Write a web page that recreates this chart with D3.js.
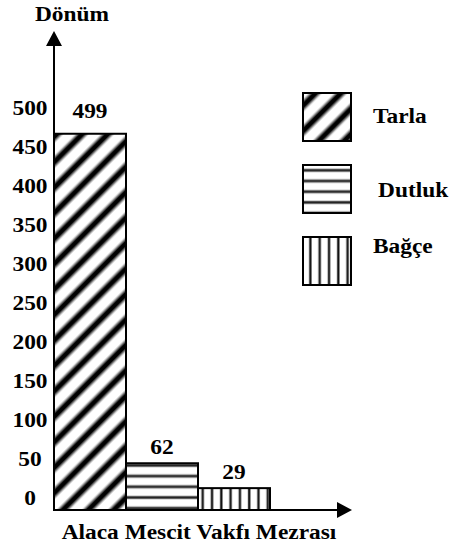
<!DOCTYPE html>
<meta charset="utf-8">
<script src="https://d3js.org/d3.v7.min.js"></script>
<style>
  body { margin: 0; background: #fff; }
  text { font-family: "Liberation Serif", "Times New Roman", serif; font-weight: bold; fill: #000; }
</style>
<body>
<div id="chart"></div>
<script>

// data
var categories = ["Tarla", "Dutluk", "Bağçe"];
var values = [499, 62, 29];
var tickValues = [0, 50, 100, 150, 200, 250, 300, 350, 400, 450, 500];
var yTitle = "Dönüm";
var xTitle = "Alaca Mescit Vakfı Mezrası";

// fill pattern for each category
var fills = ["url(#diag)", "url(#horiz)", "url(#vert)"];

var width = 453, height = 546;
var baseY = 510, axisX = 54;
var fontSize = "20px";
var stretch = 1.17; // original text is a bit wider than Times

var svg = d3.select("#chart")
  .append("svg")
    .attr("width", width)
    .attr("height", height);

// put a text at x,y and widen it
function place(sel, x, y) {
  sel.attr("transform", function(d, i) {
    var xx = typeof x === "function" ? x(d, i) : x;
    var yy = typeof y === "function" ? y(d, i) : y;
    return "translate(" + xx + "," + yy + ") scale(" + stretch + ",1)";
  });
}

var defs = svg.append("defs");

// soft diagonal stripes
var g1 = defs.append("linearGradient").attr("id", "stripeGrad");
g1.append("stop").attr("offset", "0").attr("stop-color", "#fff");
g1.append("stop").attr("offset", "0.22").attr("stop-color", "#fff");
g1.append("stop").attr("offset", "0.42").attr("stop-color", "#000");
g1.append("stop").attr("offset", "0.58").attr("stop-color", "#000");
g1.append("stop").attr("offset", "0.78").attr("stop-color", "#fff");
g1.append("stop").attr("offset", "1").attr("stop-color", "#fff");

defs.append("pattern")
    .attr("id", "diag")
    .attr("patternUnits", "userSpaceOnUse")
    .attr("width", 18).attr("height", 18)
    .attr("patternTransform", "rotate(45)")
  .append("rect")
    .attr("width", 18).attr("height", 18)
    .attr("fill", "url(#stripeGrad)");

var ph = defs.append("pattern")
    .attr("id", "horiz")
    .attr("patternUnits", "userSpaceOnUse")
    .attr("width", 20).attr("height", 10.7);
ph.append("rect").attr("width", 20).attr("height", 10.7).attr("fill", "#fff");
ph.append("rect").attr("y", 3.5).attr("width", 20).attr("height", 3.6).attr("fill", "#999");
ph.append("rect").attr("y", 4.3).attr("width", 20).attr("height", 2).attr("fill", "#222");

var pv = defs.append("pattern")
    .attr("id", "vert")
    .attr("patternUnits", "userSpaceOnUse")
    .attr("x", 2.5)
    .attr("width", 9.3).attr("height", 20);
pv.append("rect").attr("width", 9.3).attr("height", 20).attr("fill", "#fff");
pv.append("rect").attr("x", 3.4).attr("width", 3).attr("height", 20).attr("fill", "#999");
pv.append("rect").attr("x", 4).attr("width", 1.8).attr("height", 20).attr("fill", "#111");

// scales
var x = d3.scaleBand()
  .domain(categories)
  .range([axisX, 270])
  .padding(0);

var y = d3.scaleLinear()
  .domain([0, 500])
  .range([baseY, 133]);

// tick labels are drawn a bit off the bar scale, like the original
var yLabel = d3.scaleLinear()
  .domain([0, 500])
  .range([498, 108]);

// bars
svg.selectAll("rect.bar")
  .data(values)
  .enter()
  .append("rect")
    .attr("class", "bar")
    .attr("x", function(d, i) { return x(categories[i]); })
    .attr("y", function(d) { return y(d); })
    .attr("width", x.bandwidth())
    .attr("height", function(d) { return baseY - y(d); })
    .attr("fill", function(d, i) { return fills[i]; })
    .attr("stroke", "#000")
    .attr("stroke-width", 2);

// value labels
svg.selectAll("text.val")
  .data(values)
  .enter()
  .append("text")
    .attr("class", "val")
    .attr("text-anchor", "middle")
    .style("font-size", fontSize)
    .text(function(d) { return d; })
    .call(place,
      function(d, i) { return x(categories[i]) + x.bandwidth() / 2; },
      function(d) { return y(d) - (d > 400 ? 16 : 9); });

// y tick labels
var yAxis = svg.append("g")
  .attr("transform", "translate(30,0)")
  .call(d3.axisLeft(yLabel).tickValues(tickValues).tickSize(0).tickPadding(0));
yAxis.select(".domain").remove();
yAxis.selectAll("text")
  .attr("x", 0)
  .attr("text-anchor", "middle")
  .attr("transform", "scale(" + stretch + ",1)")
  .style("font-family", "'Liberation Serif', 'Times New Roman', serif")
  .style("font-weight", "bold")
  .style("font-size", fontSize)
  .attr("fill", "#000");

// axis lines with arrow heads
svg.append("line")
  .attr("x1", axisX).attr("y1", baseY)
  .attr("x2", axisX).attr("y2", 44)
  .attr("stroke", "#000").attr("stroke-width", 2);
svg.append("path")
  .attr("d", "M" + axisX + ",31L" + (axisX - 8) + ",46L" + (axisX + 8) + ",46Z")
  .attr("fill", "#000");

svg.append("line")
  .attr("x1", axisX - 1).attr("y1", baseY)
  .attr("x2", 338).attr("y2", baseY)
  .attr("stroke", "#000").attr("stroke-width", 2);
svg.append("path")
  .attr("d", "M352," + baseY + "L337," + (baseY - 8) + "L337," + (baseY + 8) + "Z")
  .attr("fill", "#000");

// axis titles
svg.append("text")
  .attr("text-anchor", "middle")
  .style("font-size", fontSize)
  .text(yTitle)
  .call(place, 72, 21);

svg.append("text")
  .attr("text-anchor", "middle")
  .style("font-size", fontSize)
  .text(xTitle)
  .call(place, 199, 539);

// legend
var legendY = [93, 165, 237];
var labelDX = [70, 75, 70];
var labelDY = [30, 32, 16];
var legend = svg.selectAll("g.leg")
  .data(categories)
  .enter()
  .append("g")
    .attr("class", "leg")
    .attr("transform", function(d, i) { return "translate(303," + legendY[i] + ")"; });

legend.append("rect")
  .attr("width", 48).attr("height", 48)
  .attr("fill", function(d, i) { return fills[i]; })
  .attr("stroke", "#000")
  .attr("stroke-width", 2);

legend.append("text")
  .style("font-size", fontSize)
  .text(function(d) { return d; })
  .call(place,
    function(d, i) { return labelDX[i]; },
    function(d, i) { return labelDY[i]; });

</script>
</body>
